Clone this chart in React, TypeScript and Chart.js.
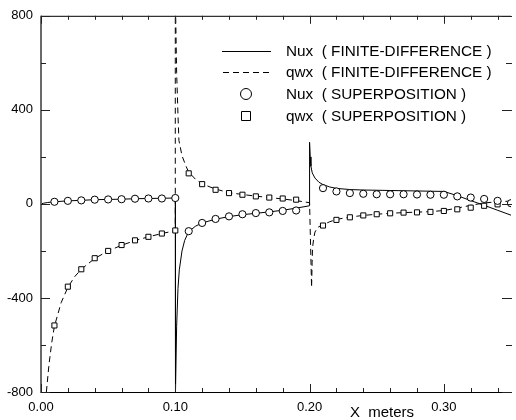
import React, { useEffect, useRef } from "react";
import { Chart, registerables } from "chart.js";

Chart.register(...registerables);

const FONT = "'Liberation Sans', Arial, sans-serif";

// Superposition markers (x in meters)
const nuxSupX = [0.01, 0.02, 0.03, 0.04, 0.05, 0.06, 0.07, 0.08, 0.09, 0.10,
  0.11, 0.12, 0.13, 0.14, 0.15, 0.16, 0.17, 0.18, 0.19,
  0.21, 0.22, 0.23, 0.24, 0.25, 0.26, 0.27, 0.28, 0.29, 0.30, 0.31, 0.32, 0.33, 0.34, 0.35];
const nuxSupY = [9, 13, 15, 18, 19, 20, 22, 23, 23, 25,
  -116, -81, -64, -53, -44, -39, -36, -30, -28,
  67, 53, 46, 43, 41, 41, 41, 40, 39, 39, 32, 27, 21, 13, 3];

const qwxSupX = nuxSupX;
const qwxSupY = [-517, -352, -278, -231, -200, -175, -155, -140, -126, -113,
  130, 84, 60, 46, 39, 32, 27, 23, 18,
  -92, -68, -57, -49, -44, -40, -37, -36, -34, -30, -23, -16, -8, -2, 3];

// Finite-difference curves
const nuxFdX = [0, 0.002, 0.005, 0.01, 0.02, 0.03, 0.04, 0.05, 0.06, 0.07, 0.08, 0.09, 0.1,
  0.1, 0.1003, 0.101, 0.102, 0.103, 0.105, 0.107, 0.11, 0.115, 0.12, 0.13, 0.14, 0.15, 0.16, 0.17, 0.18, 0.19, 0.2,
  0.2, 0.2005, 0.201, 0.202, 0.204, 0.207, 0.21, 0.215, 0.22, 0.23, 0.24, 0.25, 0.26, 0.27, 0.28, 0.29, 0.3,
  0.31, 0.32, 0.33, 0.34, 0.35];
const nuxFdY = [0, 3, 6, 9, 13, 15, 18, 19, 20, 22, 23, 24, 25,
  -800, -800, -520, -360, -280, -200, -155, -118, -95, -81, -65, -54, -46, -40, -34, -27, -18, -8,
  262, 200, 160, 132, 110, 92, 82, 72, 66, 61, 59, 58, 57, 56, 55, 54, 53,
  35, 14, -6, -27, -48];

const qwxFdX = [0.004, 0.006, 0.008, 0.01, 0.015, 0.02, 0.025, 0.03, 0.04, 0.05, 0.06, 0.07, 0.08, 0.09, 0.1,
  0.1, 0.1003, 0.101, 0.102, 0.1027, 0.105, 0.108, 0.11, 0.115, 0.12, 0.13, 0.14, 0.15, 0.16, 0.17, 0.18, 0.19, 0.2,
  0.2015, 0.2019, 0.2022, 0.203, 0.204, 0.206, 0.21, 0.215, 0.22, 0.23, 0.24, 0.25, 0.26, 0.27, 0.28, 0.29, 0.3,
  0.31, 0.32, 0.33, 0.34, 0.35];
const qwxFdY = [-800, -680, -590, -520, -420, -355, -310, -278, -232, -200, -176, -156, -140, -126, -114,
  800, 800, 560, 380, 270, 205, 160, 135, 105, 85, 63, 48, 40, 33, 27, 21, 14, 5,
  -355, -250, -187, -150, -120, -100, -88, -76, -66, -56, -49, -44, -40, -37, -35, -33, -28,
  -18, -6, 4, 9, 12];

// Axis ticks
const xMajorTicks = [0, 0.1, 0.2, 0.3];
const xMinorTicks = [0.02, 0.04, 0.06, 0.08, 0.12, 0.14, 0.16, 0.18, 0.22, 0.24, 0.26, 0.28, 0.32, 0.34];
const yMajorTicks = [-800, -400, 0, 400, 800];
const yMinorTicks = [-600, -200, 200, 600];

const legendLabels = [
  "Nux  ( FINITE-DIFFERENCE )",
  "qwx  ( FINITE-DIFFERENCE )",
  "Nux  ( SUPERPOSITION )",
  "qwx  ( SUPERPOSITION )",
];
const xTitle = "X  meters";

const zip = (xs: number[], ys: number[]) => xs.map((x, i) => ({ x, y: ys[i] }));

const DASH = [6, 4];

const decorPlugin = {
  id: "decor",
  afterDraw(chart: any) {
    const { ctx, chartArea, scales } = chart;
    const { left, right, top, bottom } = chartArea;
    const xs = scales.x;
    const ys = scales.y;
    ctx.save();
    // frame
    ctx.strokeStyle = "#000";
    ctx.lineWidth = 1;
    ctx.beginPath();
    ctx.moveTo(left, top + 0.5);
    ctx.lineTo(right, top + 0.5);
    ctx.moveTo(left, bottom + 0.5);
    ctx.lineTo(right, bottom + 0.5);
    ctx.stroke();
    ctx.strokeStyle = "#6a6a6a";
    ctx.lineWidth = 2;
    ctx.beginPath();
    ctx.moveTo(left, top);
    ctx.lineTo(left, bottom + 1);
    ctx.stroke();

    // ticks (inward)
    ctx.lineWidth = 1;
    ctx.strokeStyle = "#222";
    ctx.beginPath();
    xMajorTicks.forEach((v) => {
      const p = Math.round(xs.getPixelForValue(v)) + 0.5;
      ctx.moveTo(p, bottom);
      ctx.lineTo(p, bottom - 8);
      ctx.moveTo(p, top);
      ctx.lineTo(p, top + 8);
    });
    xMinorTicks.forEach((v) => {
      const p = Math.round(xs.getPixelForValue(v)) + 0.5;
      ctx.moveTo(p, bottom);
      ctx.lineTo(p, bottom - 4);
      ctx.moveTo(p, top);
      ctx.lineTo(p, top + 4);
    });
    yMajorTicks.forEach((v) => {
      const p = Math.round(ys.getPixelForValue(v)) + 0.5;
      ctx.moveTo(left, p);
      ctx.lineTo(left + 9, p);
      ctx.moveTo(right + 1, p);
      ctx.lineTo(right - 9, p);
    });
    yMinorTicks.forEach((v) => {
      const p = Math.round(ys.getPixelForValue(v)) + 0.5;
      ctx.moveTo(left, p);
      ctx.lineTo(left + 5, p);
      ctx.moveTo(right + 1, p);
      ctx.lineTo(right - 5, p);
    });
    ctx.stroke();

    // legend
    const rows = [51, 72, 94, 116];
    ctx.strokeStyle = "#000";
    ctx.lineWidth = 1;
    ctx.beginPath();
    ctx.moveTo(222, rows[0] + 0.5);
    ctx.lineTo(271, rows[0] + 0.5);
    ctx.stroke();
    ctx.setLineDash(DASH);
    ctx.beginPath();
    ctx.moveTo(223, rows[1] + 0.5);
    ctx.lineTo(271, rows[1] + 0.5);
    ctx.stroke();
    ctx.setLineDash([]);
    ctx.fillStyle = "#fff";
    ctx.beginPath();
    ctx.arc(246, rows[2], 5.5, 0, Math.PI * 2);
    ctx.fill();
    ctx.stroke();
    ctx.beginPath();
    ctx.rect(241.5, rows[3] - 4.5, 9, 9);
    ctx.fill();
    ctx.stroke();

    ctx.fillStyle = "#000";
    ctx.font = `15.3px ${FONT}`;
    ctx.textBaseline = "middle";
    ctx.textAlign = "left";
    legendLabels.forEach((t, i) => ctx.fillText(t, 286, rows[i] + 1));

    // x title
    ctx.font = `15px ${FONT}`;
    ctx.textAlign = "center";
    ctx.fillText(xTitle, 382, 413);
    ctx.restore();
  },
};

export default function App() {
  const ref = useRef<HTMLCanvasElement>(null);
  useEffect(() => {
    const chart = new Chart(ref.current as HTMLCanvasElement, {
      type: "scatter",
      data: {
        datasets: [
          {
            label: "Nux (SUPERPOSITION)",
            data: zip(nuxSupX, nuxSupY),
            showLine: false,
            pointStyle: "circle",
            pointRadius: 3.6,
            backgroundColor: "#fff",
            borderColor: "#000",
            borderWidth: 1,
            order: 0,
          },
          {
            label: "qwx (SUPERPOSITION)",
            data: zip(qwxSupX, qwxSupY),
            showLine: false,
            pointStyle: "rect",
            pointRadius: 3.6,
            backgroundColor: "#fff",
            borderColor: "#000",
            borderWidth: 1,
            order: 1,
          },
          {
            label: "Nux (FINITE-DIFFERENCE)",
            data: zip(nuxFdX, nuxFdY),
            showLine: true,
            pointRadius: 0,
            borderColor: "#000",
            borderWidth: 1,
            tension: 0,
            order: 2,
          },
          {
            label: "qwx (FINITE-DIFFERENCE)",
            data: zip(qwxFdX, qwxFdY),
            showLine: true,
            pointRadius: 0,
            borderColor: "#000",
            borderWidth: 1,
            borderDash: DASH,
            tension: 0,
            order: 3,
          },
        ],
      },
      options: {
        responsive: false,
        animation: false,
        devicePixelRatio: 1,
        events: [],
        layout: { padding: { top: 13, right: 0, left: 0, bottom: 0 } },
        plugins: { legend: { display: false }, tooltip: { enabled: false } },
        scales: {
          x: {
            type: "linear",
            min: 0,
            max: 0.35,
            grid: { display: false, drawTicks: false },
            border: { display: false },
            afterFit: (s: any) => {
              s.height = 28;
            },
            afterBuildTicks: (s: any) => {
              s.ticks = xMajorTicks.map((v) => ({ value: v }));
            },
            ticks: {
              padding: 8,
              color: "#000",
              font: { family: FONT, size: 13 },
              maxRotation: 0,
              autoSkip: false,
              callback: (v: any) => Number(v).toFixed(2),
            },
          },
          y: {
            type: "linear",
            min: -800,
            max: 800,
            grid: { display: false, drawTicks: false },
            border: { display: false },
            afterFit: (s: any) => {
              s.width = 41;
            },
            afterBuildTicks: (s: any) => {
              s.ticks = yMajorTicks.map((v) => ({ value: v }));
            },
            ticks: {
              padding: 8,
              color: "#000",
              font: { family: FONT, size: 13 },
              autoSkip: false,
              callback: (v: any) => String(v),
            },
          },
        },
      },
      plugins: [decorPlugin],
    });
    return () => chart.destroy();
  }, []);
  return (
    <div style={{ position: "fixed", left: 0, top: 0, width: 516, height: 420, background: "#fff" }}>
      <canvas ref={ref} width={516} height={420} style={{ display: "block" }} />
    </div>
  );
}
